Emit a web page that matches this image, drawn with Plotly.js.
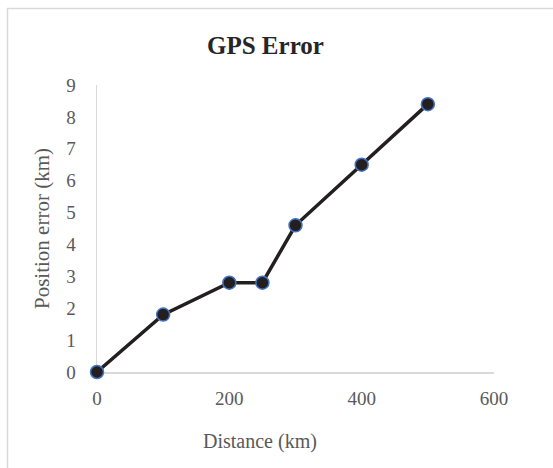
<!DOCTYPE html>
<html>
<head>
<meta charset="utf-8">
<script src="https://cdn.plot.ly/plotly-3.0.1.min.js"></script>
<style>html,body{margin:0;padding:0;background:#fff;}#chart{width:553px;height:468px;}</style>
</head>
<body>
<div id="chart"></div>
<script>
const distanceKm = [0, 100, 200, 250, 300, 400, 500];
const positionErrorKm = [0, 1.8, 2.8, 2.8, 4.6, 6.5, 8.4];
const xTicks = [0, 200, 400, 600];
const yTicks = [0, 1, 2, 3, 4, 5, 6, 7, 8, 9];

const L = 97, R = 59, T = 85, B = 96, W = 553, H = 468;
const pw = W - L - R, ph = H - T - B;
const px = v => (v - L) / pw;
const py = v => (H - B - v) / ph;
const font = 'Liberation Serif, Times New Roman, serif';
const gray = '#595959';

const trace = {
  x: distanceKm, y: positionErrorKm, type: 'scatter', mode: 'lines+markers',
  line: {color: '#231f20', width: 3.5},
  marker: {color: '#231f20', size: 13, line: {color: '#4472c4', width: 1.5}},
  cliponaxis: false, hoverinfo: 'none'
};

const layout = {
  width: W, height: H,
  margin: {l: L, r: R, t: T, b: B},
  paper_bgcolor: '#fff', plot_bgcolor: '#fff',
  showlegend: false,
  xaxis: {range: [0, 600], tickvals: xTicks, ticktext: xTicks.map(String), showgrid: false, zeroline: false,
    showline: true, linecolor: '#d9d9d9', linewidth: 1.5, ticks: '', ticklabelstandoff: 9, layer: 'below traces',
    tickfont: {family: font, size: 19, color: gray}, fixedrange: true},
  yaxis: {range: [0, 9], tickvals: yTicks, ticktext: yTicks.map(String), showgrid: false, zeroline: false,
    showline: true, linecolor: '#d9d9d9', linewidth: 1.5, ticks: '', ticklabelstandoff: 16, layer: 'below traces',
    tickfont: {family: font, size: 19, color: gray}, fixedrange: true},
  annotations: [
    {text: '<b>GPS Error</b>', xref: 'paper', yref: 'paper', x: px(265), y: py(45), showarrow: false,
      font: {family: font, size: 25, color: '#262626'}, xanchor: 'center', yanchor: 'middle'},
    {text: 'Distance (km)', xref: 'paper', yref: 'paper', x: px(260), y: py(441), showarrow: false,
      font: {family: font, size: 20, color: gray}, xanchor: 'center', yanchor: 'middle'},
    {text: 'Position error (km)', xref: 'paper', yref: 'paper', x: px(42), y: py(229), showarrow: false,
      textangle: -90, font: {family: font, size: 21, color: gray}, xanchor: 'center', yanchor: 'middle'}
  ],
  shapes: [
    {type: 'rect', xref: 'paper', yref: 'paper', x0: px(7.5), x1: px(600), y0: py(520), y1: py(8.5),
      line: {color: '#d9d9d9', width: 1.5}, fillcolor: 'rgba(0,0,0,0)', layer: 'below'}
  ]
};

Plotly.newPlot('chart', [trace], layout, {displayModeBar: false, staticPlot: true});
</script>
</body>
</html>
